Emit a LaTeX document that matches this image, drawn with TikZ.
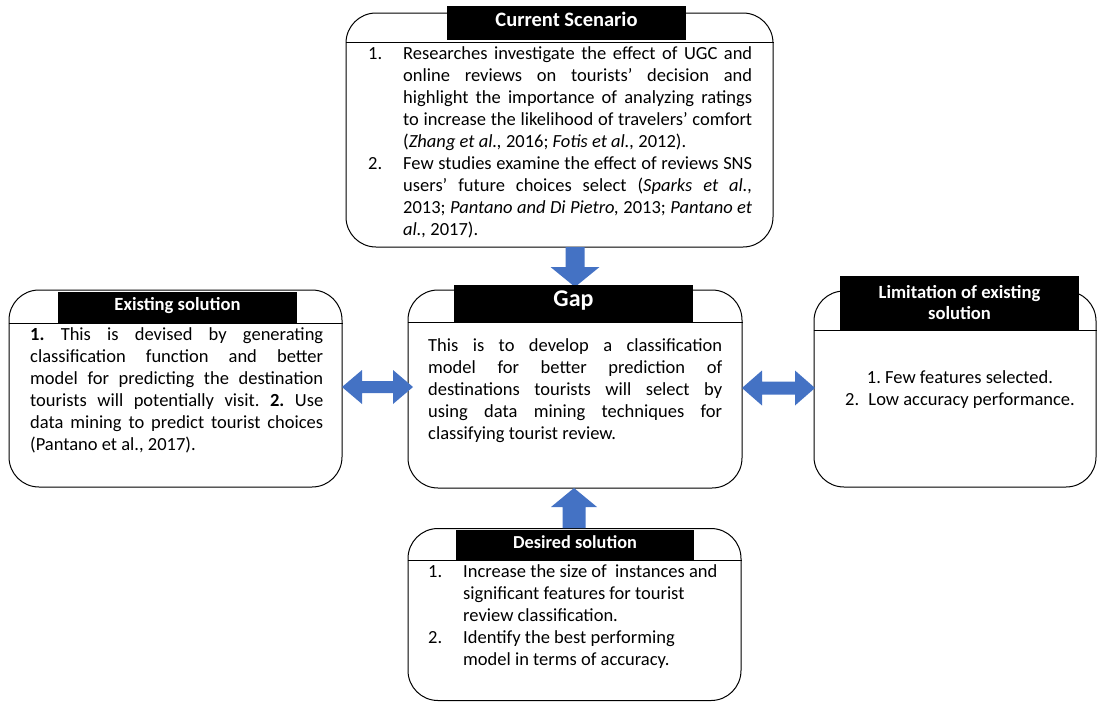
\documentclass[tikz,border=0pt]{standalone}
\usepackage{fontspec}
\setmainfont{Carlito}
\usetikzlibrary{calc}
\definecolor{arrowblue}{HTML}{4472C4}
\frenchspacing
\newcommand{\resetsp}{\frenchspacing\spaceskip=0pt\relax\xspaceskip=0pt\relax}
\newcommand{\jl}[2]{\makebox[#1][s]{\resetsp #2}}
\newcommand{\bodyfont}{\fontsize{18.5}{22}\selectfont}
\tikzset{
  box/.style={draw=black, line width=1pt, rounded corners=30pt, fill=white, inner sep=0pt},
  hdr/.style={fill=black, text=white, inner sep=0pt, font=\bfseries\fontsize{18.6}{21}\selectfont},
  hdrone/.style={hdr, text height=0.64em, text depth=0pt},
  bodytext/.style={anchor=north west, inner sep=0pt, align=left, font=\bodyfont},
  divider/.style={draw=black, line width=1pt},
  blockarrow/.style={fill=arrowblue}
}
\begin{document}
\begin{tikzpicture}[x=1pt, y=-1pt]
\useasboundingbox (0,0) rectangle (1097,702);

% boxes
\node[box, minimum width=427pt, minimum height=234pt] (cs) at (559.5,130) {};
\node[box, minimum width=334pt, minimum height=198pt] (gap) at (575,389) {};
\node[box, minimum width=333pt, minimum height=197pt] (ex) at (175.5,388.5) {};
\node[box, minimum width=282pt, minimum height=196pt] (lim) at (955,389) {};
\node[box, minimum width=333pt, minimum height=172pt] (des) at (574.5,614.5) {};

% dividers
\draw[divider] (cs.west |- 0,42) -- (cs.east |- 0,42);
\draw[divider] (gap.west |- 0,322) -- (gap.east |- 0,322);
\draw[divider] (ex.west |- 0,323) -- (ex.east |- 0,323);
\draw[divider] (lim.west |- 0,330) -- (lim.east |- 0,330);
\draw[divider] (des.west |- 0,560) -- (des.east |- 0,560);

% block arrows
\coordinate (a1s) at (575,247);
\coordinate (a1e) at (575,287);
\fill[blockarrow] let \p1=(a1s), \p2=(a1e) in
  (\x1-9.5pt,\y1) -- (\x1+9.5pt,\y1) -- (\x1+9.5pt,\y2+20pt) -- (\x1+24.5pt,\y2+20pt)
  -- (\x2,\y2) -- (\x1-24.5pt,\y2+20pt) -- (\x1-9.5pt,\y2+20pt) -- cycle;

\coordinate (a2s) at (574,528);
\coordinate (a2e) at (574,488);
\fill[blockarrow] let \p1=(a2s), \p2=(a2e) in
  (\x1-11.5pt,\y1) -- (\x1+11.5pt,\y1) -- (\x1+11.5pt,\y2-19pt) -- (\x1+23pt,\y2-19pt)
  -- (\x2,\y2) -- (\x1-23pt,\y2-19pt) -- (\x1-11.5pt,\y2-19pt) -- cycle;

\coordinate (a3s) at (342,387);
\coordinate (a3e) at (413,387);
\fill[blockarrow] let \p1=(a3s), \p2=(a3e) in
  (\x1,\y1) -- (\x1+20pt,\y1+17pt) -- (\x1+20pt,\y1+6pt) -- (\x2-20pt,\y1+6pt)
  -- (\x2-20pt,\y1+17pt) -- (\x2,\y1) -- (\x2-20pt,\y1-17pt) -- (\x2-20pt,\y1-6pt)
  -- (\x1+20pt,\y1-6pt) -- (\x1+20pt,\y1-17pt) -- cycle;

\coordinate (a4s) at (742,388);
\coordinate (a4e) at (815,388);
\fill[blockarrow] let \p1=(a4s), \p2=(a4e) in
  (\x1,\y1) -- (\x1+20pt,\y1+17.5pt) -- (\x1+20pt,\y1+6.5pt) -- (\x2-20pt,\y1+6.5pt)
  -- (\x2-20pt,\y1+17.5pt) -- (\x2,\y1) -- (\x2-20pt,\y1-17.5pt) -- (\x2-20pt,\y1-6.5pt)
  -- (\x1+20pt,\y1-6.5pt) -- (\x1+20pt,\y1-17.5pt) -- cycle;

% headers
\node[hdrone, minimum width=239pt, minimum height=34pt, font=\bfseries\fontsize{20.5}{24}\selectfont] (csh) at (566.5,23) {\resetsp Current Scenario};
\node[hdrone, minimum width=239pt, minimum height=37pt, font=\bfseries\fontsize{24}{28}\selectfont] (gaph) at (573.5,303.5) {Gap};
\node[hdrone, minimum width=239pt, minimum height=31pt] (exh) at (177.5,307.5) {\resetsp Existing solution};
\node[hdr, minimum width=239pt, minimum height=54pt, align=center] (limh) at (959.5,303) {\resetsp Limitation of existing\\solution};
\node[hdrone, minimum width=238pt, minimum height=30pt, font=\bfseries\fontsize{18.3}{21}\selectfont] (desh) at (575,545) {\resetsp Desired solution};

% body texts
\node[bodytext, text width=384pt] (cstext) at (368,43.6) {\resetsp
\strut\makebox[35pt][l]{1.}\jl{349pt}{Researches investigate the effect of UGC and}\\
\hspace*{35pt}\jl{349pt}{online reviews on tourists' decision and}\\
\hspace*{35pt}\jl{349pt}{highlight the importance of analyzing ratings}\\
\hspace*{35pt}\jl{349pt}{to increase the likelihood of travelers' comfort}\\
\hspace*{35pt}(\textit{Zhang et al.,} 2016; \textit{Fotis et al.,} 2012).\\
\makebox[35pt][l]{2.}\jl{349pt}{Few studies examine the effect of reviews SNS}\\
\hspace*{35pt}\jl{349pt}{users' future choices select (\textit{Sparks et al.,}}\\
\hspace*{35pt}\jl{349pt}{2013; \textit{Pantano and Di Pietro,} 2013; \textit{Pantano et}}\\
\hspace*{35pt}\textit{al.,} 2017).};

\node[bodytext, text width=294pt] (gaptext) at (428,335.6) {\resetsp
\strut\jl{294pt}{This is to develop a classification}\\
\jl{294pt}{model for better prediction of}\\
\jl{294pt}{destinations tourists will select by}\\
\jl{294pt}{using data mining techniques for}\\
classifying tourist review.};

\node[bodytext, text width=293pt] (extext) at (30,324.6) {\resetsp
\strut\jl{293pt}{\textbf{1.} This is devised by generating}\\
\jl{293pt}{classification function and better}\\
\jl{293pt}{model for predicting the destination}\\
\jl{293pt}{tourists will potentially visit. \textbf{2.} Use}\\
\jl{293pt}{data mining to predict tourist choices}\\
(Pantano et al., 2017).};

\node[anchor=north, inner sep=0pt, align=center, font=\bodyfont] (limtext) at (960,367.6) {\resetsp
\strut 1. Few features selected.\\
2.\hspace{0.5em}Low accuracy performance.};

\node[bodytext, text width=310pt] (destext) at (428,561.6) {\resetsp
\strut\makebox[35pt][l]{1.}Increase the size of\ \ instances and\\
\hspace*{35pt}significant features for tourist\\
\hspace*{35pt}review classification.\\
\makebox[35pt][l]{2.}Identify the best performing\\
\hspace*{35pt}model in terms of accuracy.};
\end{tikzpicture}
\end{document}
